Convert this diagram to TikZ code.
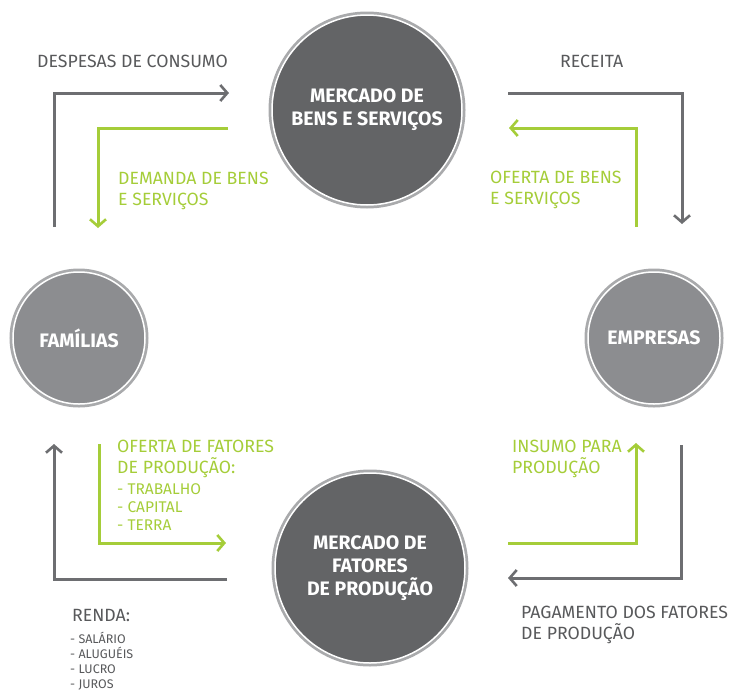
\documentclass[tikz,border=0pt]{standalone}
\usepackage{fontspec}
\setmainfont{Fira Sans}
\usetikzlibrary{arrows.meta}

\definecolor{flowgray}{HTML}{6D6E71}
\definecolor{flowgreen}{HTML}{A5CD39}
\definecolor{marketfill}{HTML}{636466}
\definecolor{agentfill}{HTML}{8C8D90}
\definecolor{ringgray}{HTML}{A9AAAC}
\definecolor{labelgray}{HTML}{58595B}

\begin{document}
\begin{tikzpicture}[x=1pt, y=-1pt,
    grayflow/.style={flowgray, line width=3pt, -{Straight Barb[length=7pt, width=16pt, line width=2.6pt]}},
    greenflow/.style={flowgreen, line width=3pt, -{Straight Barb[length=7pt, width=16pt, line width=2.6pt]}},
    ringed/.style={circle, draw=white, line width=1.5pt, preaction={draw=ringgray, line width=7pt},
        text=white, align=center, inner sep=0pt, font=\fontsize{19.5}{23}\selectfont\bfseries},
    market/.style={ringed, fill=marketfill, minimum size=190pt},
    agent/.style={ringed, fill=agentfill, minimum size=132pt},
    graytext/.style={labelgray, inner sep=0pt, align=left, font=\fontsize{17.7}{21}\selectfont},
    greentext/.style={flowgreen, inner sep=0pt, align=left, font=\fontsize{17.7}{21}\selectfont},
    ]
        \useasboundingbox (0,0) rectangle (731,691);

        \node[market] (bens) at (367,110) {MERCADO DE\\BENS E SERVIÇOS};
        \node[market] (fatores) at (370,568) {MERCADO DE\\FATORES\\DE PRODUÇÃO};
        \node[agent] (familias) at (79,338) {FAMÍLIAS};
        \node[agent] (empresas) at (654,338) {EMPRESAS};

        % ends of the flows
        \coordinate (despA) at (54,227);   \coordinate (despB) at (229,93);
        \coordinate (demA) at (228,128);   \coordinate (demB) at (98,228);
        \coordinate (recA) at (508,93);    \coordinate (recB) at (682,224);
        \coordinate (ofbA) at (636,227);   \coordinate (ofbB) at (509,128);
        \coordinate (rendA) at (227,579);  \coordinate (rendB) at (54,444);
        \coordinate (offA) at (99,444);    \coordinate (offB) at (226,543);
        \coordinate (insA) at (508,543);   \coordinate (insB) at (636,443);
        \coordinate (pagA) at (681,445);   \coordinate (pagB) at (508,578);

        \draw[grayflow] (despA) |- (despB);
        \draw[greenflow] (demA) -| (demB);
        \draw[grayflow] (recA) -| (recB);
        \draw[greenflow] (ofbA) |- (ofbB);
        \draw[grayflow] (rendA) -| (rendB);
        \draw[greenflow] (offA) |- (offB);
        \draw[greenflow] (insA) -| (insB);
        \draw[grayflow] (pagA) |- (pagB);

        \node[graytext, anchor=base west] (despesas) at (37,67) {DESPESAS DE CONSUMO};
        \node[graytext, anchor=base west] (receita) at (560,67) {RECEITA};
        \node[greentext, anchor=north west] (demanda) at (118,171.5) {DEMANDA DE BENS\\E SERVIÇOS};
        \node[greentext, anchor=north west] (ofertabens) at (490,170.5) {OFERTA DE BENS\\E SERVIÇOS};
        \node[greentext, anchor=north west] (ofertafat) at (117,439.5) {OFERTA DE FATORES\\DE PRODUÇÃO:};
        \node[greentext, anchor=north west, font=\fontsize{15.5}{18}\selectfont] (fatlista) at (117,483) {- TRABALHO\\- CAPITAL\\- TERRA};
        \node[greentext, anchor=north west] (insumo) at (512,439.5) {INSUMO PARA\\PRODUÇÃO};
        \node[graytext, anchor=north west] (pagamento) at (521,605.5) {PAGAMENTO DOS FATORES\\DE PRODUÇÃO};
        \node[graytext, anchor=base west] (renda) at (72,621) {RENDA:};
        \node[graytext, anchor=north west, font=\fontsize{12.5}{15}\selectfont] (rendalista) at (70,632) {- SALÁRIO\\- ALUGUÉIS\\- LUCRO\\- JUROS};
    \end{tikzpicture}
\end{document}
